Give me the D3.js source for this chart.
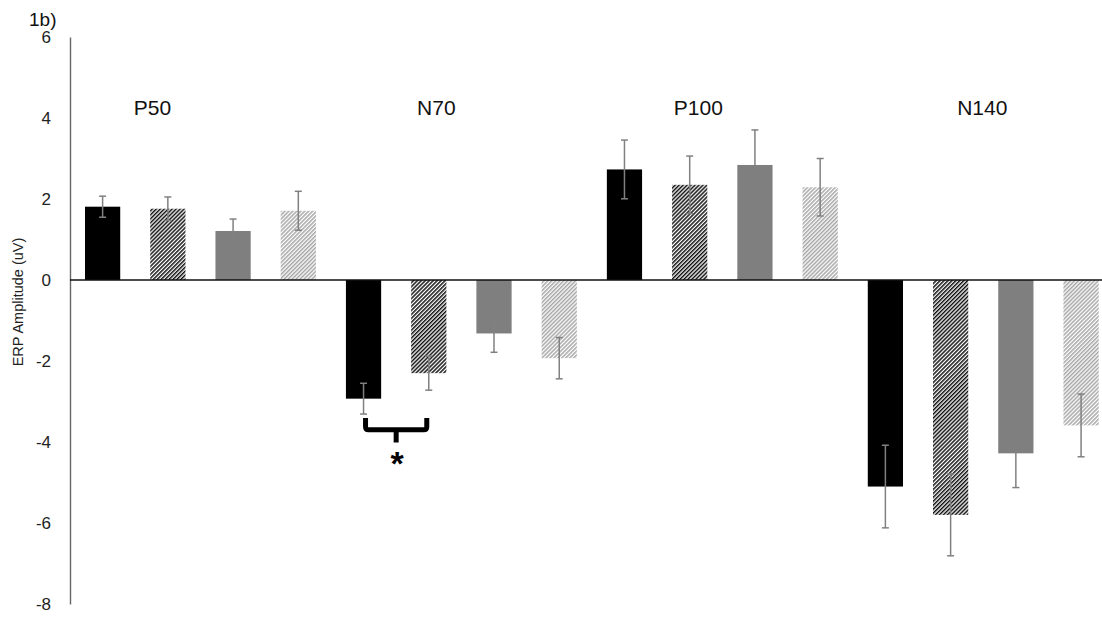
<!DOCTYPE html>
<html><head><meta charset="utf-8">
<script src="https://cdn.jsdelivr.net/npm/d3@7"></script>
<style>body{margin:0;background:#fff}svg{display:block}</style>
</head><body>
<svg id="c" width="1102" height="617"></svg>
<script>
const components = ["P50", "N70", "P100", "N140"];
const seriesNames = ["cond1", "cond2", "cond3", "cond4"];
const cond1 = [1.81, -2.93, 2.73, -5.10];
const cond2 = [1.76, -2.30, 2.35, -5.80];
const cond3 = [1.21, -1.32, 2.84, -4.28];
const cond4 = [1.71, -1.93, 2.29, -3.59];
const err1 = [0.26, 0.38, 0.725, 1.02];
const err2 = [0.29, 0.42, 0.71, 1.01];
const err3 = [0.295, 0.465, 0.865, 0.845];
const err4 = [0.48, 0.51, 0.71, 0.775];
const yTicks = [-8, -6, -4, -2, 0, 2, 4, 6];
const panelLabel = "1b)";
const yTitle = "ERP Amplitude (uV)";

const values = [cond1, cond2, cond3, cond4];
const errors = [err1, err2, err3, err4];
const data = [];
components.forEach((c, gi) => seriesNames.forEach((s, si) =>
  data.push({comp: c, series: s, si, v: values[si][gi], e: errors[si][gi]})));

const FONT = "Liberation Sans, Arial, sans-serif";
const svg = d3.select("#c");
const defs = svg.append("defs");
function hatch(id, color) {
  const p = defs.append("pattern").attr("id", id).attr("patternUnits", "userSpaceOnUse")
    .attr("width", 2.8).attr("height", 10).attr("patternTransform", "rotate(45)");
  p.append("rect").attr("width", 2.8).attr("height", 10).attr("fill", "#fff");
  p.append("rect").attr("width", 1.5).attr("height", 10).attr("fill", color);
}
hatch("hDark", "#111");
hatch("hLight", "#a6a6a6");
const fills = ["#000000", "url(#hDark)", "#7f7f7f", "url(#hLight)"];

const x0 = d3.scaleBand().domain(components).range([70, 1113.7]).paddingInner(0).paddingOuter(0);
const x1 = d3.scaleBand().domain(seriesNames).range([0, x0.bandwidth()]).paddingInner(0.46).paddingOuter(0.23);
const y = d3.scaleLinear().domain([-8, 6]).range([604, 37]);

// y axis
const yAxis = d3.axisLeft(y).tickValues(yTicks).tickSize(0).tickPadding(19).tickFormat(d3.format("d"));
const ga = svg.append("g").attr("transform", "translate(70,0)").call(yAxis);
ga.select(".domain").attr("stroke", "#666").attr("stroke-width", 1.4);
ga.selectAll("text").attr("font-family", FONT)
  .attr("font-size", 17).attr("fill", "#222").text(d => d < 0 ? "-" + Math.abs(d) : d);

// bars
const bx = d => x0(d.comp) + x1(d.series);
svg.append("g").selectAll("rect").data(data).join("rect")
  .attr("x", bx).attr("width", x1.bandwidth())
  .attr("y", d => y(Math.max(0, d.v))).attr("height", d => Math.abs(y(d.v) - y(0)))
  .attr("fill", d => fills[d.si]);

// zero line
svg.append("line").attr("x1", 70).attr("x2", 1102).attr("y1", y(0)).attr("y2", y(0))
  .attr("stroke", "#111").attr("stroke-width", 1.5);

// error bars
const ge = svg.append("g").attr("stroke", "#808080").attr("stroke-width", 1.5);
data.forEach(d => {
  const cx = bx(d) + x1.bandwidth() / 2;
  ge.append("line").attr("x1", cx).attr("x2", cx).attr("y1", y(d.v + d.e)).attr("y2", y(d.v - d.e));
  [d.v + d.e, d.v - d.e].forEach(v => ge.append("line").attr("x1", cx - 3.5).attr("x2", cx + 3.5)
    .attr("y1", y(v)).attr("y2", y(v)));
});

// component labels
const labelDx = [-48, -25, -24, -1];
svg.append("g").selectAll("text").data(components).join("text")
  .attr("x", (c, i) => x0(c) + x0.bandwidth() / 2 + labelDx[i]).attr("y", 115)
  .attr("text-anchor", "middle").attr("font-family", FONT)
  .attr("font-size", 21).attr("fill", "#111").text(c => c);

// significance brace between cond1 and cond2 of N70
const half = x1.bandwidth() / 2;
const bL = x0("N70") + x1("cond1") + half, bR = x0("N70") + x1("cond2") + half;
const bm = (bL + bR) / 2, bTop = y(-3.41), bBar = y(-3.70), bStem = y(-4.01);
svg.append("path").attr("d", `M${bL+2},${bTop} V${bBar-3} Q${bL+2},${bBar} ${bL+5},${bBar} H${bR-5} Q${bR-2},${bBar} ${bR-2},${bBar-3} V${bTop} M${bm},${bBar} V${bStem}`)
  .attr("fill", "none").attr("stroke", "#000").attr("stroke-width", 5).attr("stroke-linejoin", "round");
svg.append("text").attr("x", bm + 1).attr("y", bStem + 33).attr("text-anchor", "middle")
  .attr("font-family", FONT).attr("font-weight", "bold")
  .attr("font-size", 34).attr("fill", "#000").text("*");

// panel label
svg.append("text").attr("x", 29).attr("y", 26).attr("font-family", FONT)
  .attr("font-size", 19).attr("fill", "#111").text(panelLabel);

// y title
svg.append("text").attr("transform", "translate(23,302) rotate(-90)").attr("text-anchor", "middle")
  .attr("font-family", FONT).attr("font-size", 14.5).attr("fill", "#222")
  .text(yTitle);
</script>
</body></html>
